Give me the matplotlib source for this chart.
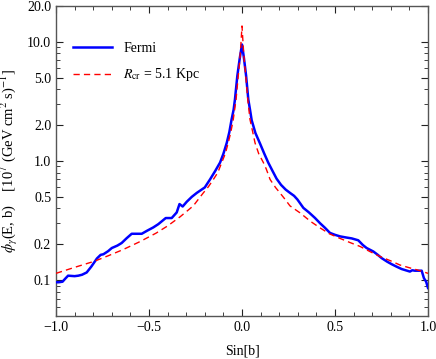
import matplotlib
matplotlib.use("Agg")
import matplotlib.pyplot as plt
from matplotlib.ticker import FixedLocator, NullFormatter, MultipleLocator

plt.rcParams['font.family'] = ['Liberation Serif', 'DejaVu Serif']
plt.rcParams['mathtext.fontset'] = 'stix'

# Fermi data
fermi_x = [-1.0, -0.985, -0.965, -0.95, -0.935, -0.9, -0.88, -0.86, -0.835, -0.81,
           -0.78, -0.76, -0.745, -0.72, -0.70, -0.67, -0.647, -0.62, -0.593, -0.565,
           -0.539, -0.51, -0.477, -0.45, -0.41, -0.378, -0.351, -0.336, -0.319, -0.297,
           -0.27, -0.243, -0.2, -0.172, -0.145, -0.118, -0.1, -0.082, -0.068, -0.056,
           -0.045, -0.038, -0.025, -0.012, 0.0, 0.011, 0.022, 0.034, 0.043, 0.052,
           0.072, 0.097, 0.12, 0.141, 0.165, 0.186, 0.21, 0.235, 0.258, 0.28,
           0.298, 0.33, 0.36, 0.392, 0.42, 0.446, 0.473, 0.5,
           0.527, 0.56, 0.59, 0.625, 0.65, 0.67, 0.706, 0.73, 0.751, 0.78,
           0.805, 0.83, 0.858, 0.88, 0.903, 0.915, 0.93, 0.966, 0.978, 0.99, 1.0]
fermi_y = [0.096, 0.096, 0.097, 0.103, 0.109, 0.108, 0.109, 0.111, 0.116, 0.13,
           0.152, 0.163, 0.165, 0.175, 0.186, 0.195, 0.205, 0.225, 0.245, 0.245,
           0.245, 0.26, 0.277, 0.295, 0.332, 0.332, 0.37, 0.435, 0.415, 0.455,
           0.5, 0.54, 0.6, 0.70, 0.82, 0.97, 1.15, 1.42, 1.75, 2.23,
           2.7, 3.28, 5.2, 7.3, 9.5, 7.2, 5.2, 3.28, 2.7, 2.2,
           1.72, 1.4, 1.15, 0.97, 0.82, 0.71, 0.63, 0.575, 0.54, 0.51,
           0.475, 0.404, 0.37, 0.333, 0.3, 0.275, 0.249, 0.24,
           0.233, 0.228, 0.224, 0.216, 0.197, 0.186, 0.174, 0.163, 0.153, 0.143,
           0.136, 0.13, 0.124, 0.121, 0.118, 0.121, 0.12, 0.12, 0.104, 0.097, 0.086]

# Model (R_cr = 5.1 Kpc)
model_x = [-1.0, -0.9, -0.794, -0.72, -0.641, -0.55, -0.462, -0.4, -0.333, -0.3,
           -0.262, -0.208, -0.18, -0.154, -0.13, -0.109, -0.09, -0.074, -0.06, -0.047,
           -0.032, -0.02, -0.012, -0.006, 0.0,
           0.006, 0.012, 0.02, 0.031, 0.043, 0.056, 0.07, 0.09, 0.115, 0.13,
           0.151, 0.18, 0.204, 0.23, 0.258, 0.312, 0.37, 0.419, 0.47, 0.527,
           0.58, 0.634, 0.69, 0.742, 0.8, 0.849, 0.9, 0.957, 1.0]
model_y = [0.114, 0.128, 0.144, 0.16, 0.18, 0.21, 0.248, 0.285, 0.34, 0.375,
           0.42, 0.54, 0.61, 0.70, 0.8, 0.97, 1.15, 1.42, 1.75, 2.23,
           3.28, 5.2, 7.0, 9.5, 13.6,
           9.5, 7.0, 5.2, 3.28, 2.23, 1.8, 1.42, 1.15, 0.97, 0.86,
           0.70, 0.6, 0.54, 0.48, 0.42, 0.367, 0.31, 0.275, 0.245, 0.224,
           0.207, 0.192, 0.173, 0.158, 0.145, 0.134, 0.127, 0.12, 0.114]

y_ticks = [0.1, 0.2, 0.5, 1.0, 2.0, 5.0, 10.0, 20.0]
y_ticklabels = ['0.1', '0.2', '0.5', '1.0', '2.0', '5.0', '10.0', '20.0']
x_ticks = [-1.0, -0.5, 0.0, 0.5, 1.0]
x_ticklabels = ['\u22121.0', '\u22120.5', '0.0', '0.5', '1.0']

fig = plt.figure(figsize=(4.36, 3.59), dpi=100)
ax = fig.add_axes([56/436, 1-316/359, 372/436, 310/359])

ax.plot(fermi_x, fermi_y, color='#0000ff', lw=1.8, label='Fermi', zorder=3)
ax.plot(model_x, model_y, color='#ff0000', lw=1.0, ls=(0, (4.5, 3)),
        label=r'$R_{\rm cr}$ = 5.1 Kpc', zorder=4)

ax.set_yscale('log')
ax.set_xlim(-1, 1)
ax.set_ylim(0.05, 20)
ax.yaxis.set_major_locator(FixedLocator(y_ticks))
ax.set_yticklabels(y_ticklabels)
minor = [0.06, 0.07, 0.08, 0.09, 0.3, 0.4, 0.6, 0.7, 0.8, 0.9, 3, 4, 6, 7, 8, 9]
ax.yaxis.set_minor_locator(FixedLocator(minor))
ax.yaxis.set_minor_formatter(NullFormatter())
ax.set_xticks(x_ticks)
ax.set_xticklabels(x_ticklabels)
ax.xaxis.set_minor_locator(MultipleLocator(0.1))

ax.tick_params(which='both', direction='in', top=True, right=True, labelsize=10,
               colors='#222222', labelcolor='black')
ax.tick_params(which='major', length=5, width=0.8)
ax.tick_params(which='minor', length=3, width=0.6)
for s in ax.spines.values():
    s.set_color('#555555')
    s.set_linewidth(1.0)

ax.set_xlabel('Sin[b]', fontsize=10, labelpad=8)
ax.set_ylabel(r'$\phi_\gamma$(E, b)    [10$^7$ (GeV cm$^2$ s)$^{-1}$]', fontsize=10.5, labelpad=5)

ax.legend(loc='upper left', bbox_to_anchor=(0.047, 0.885), frameon=False,
          borderpad=0, borderaxespad=0, handlelength=2.8, handletextpad=0.8,
          labelspacing=0.85, fontsize=10)

fig.savefig('out.png', dpi=100)
